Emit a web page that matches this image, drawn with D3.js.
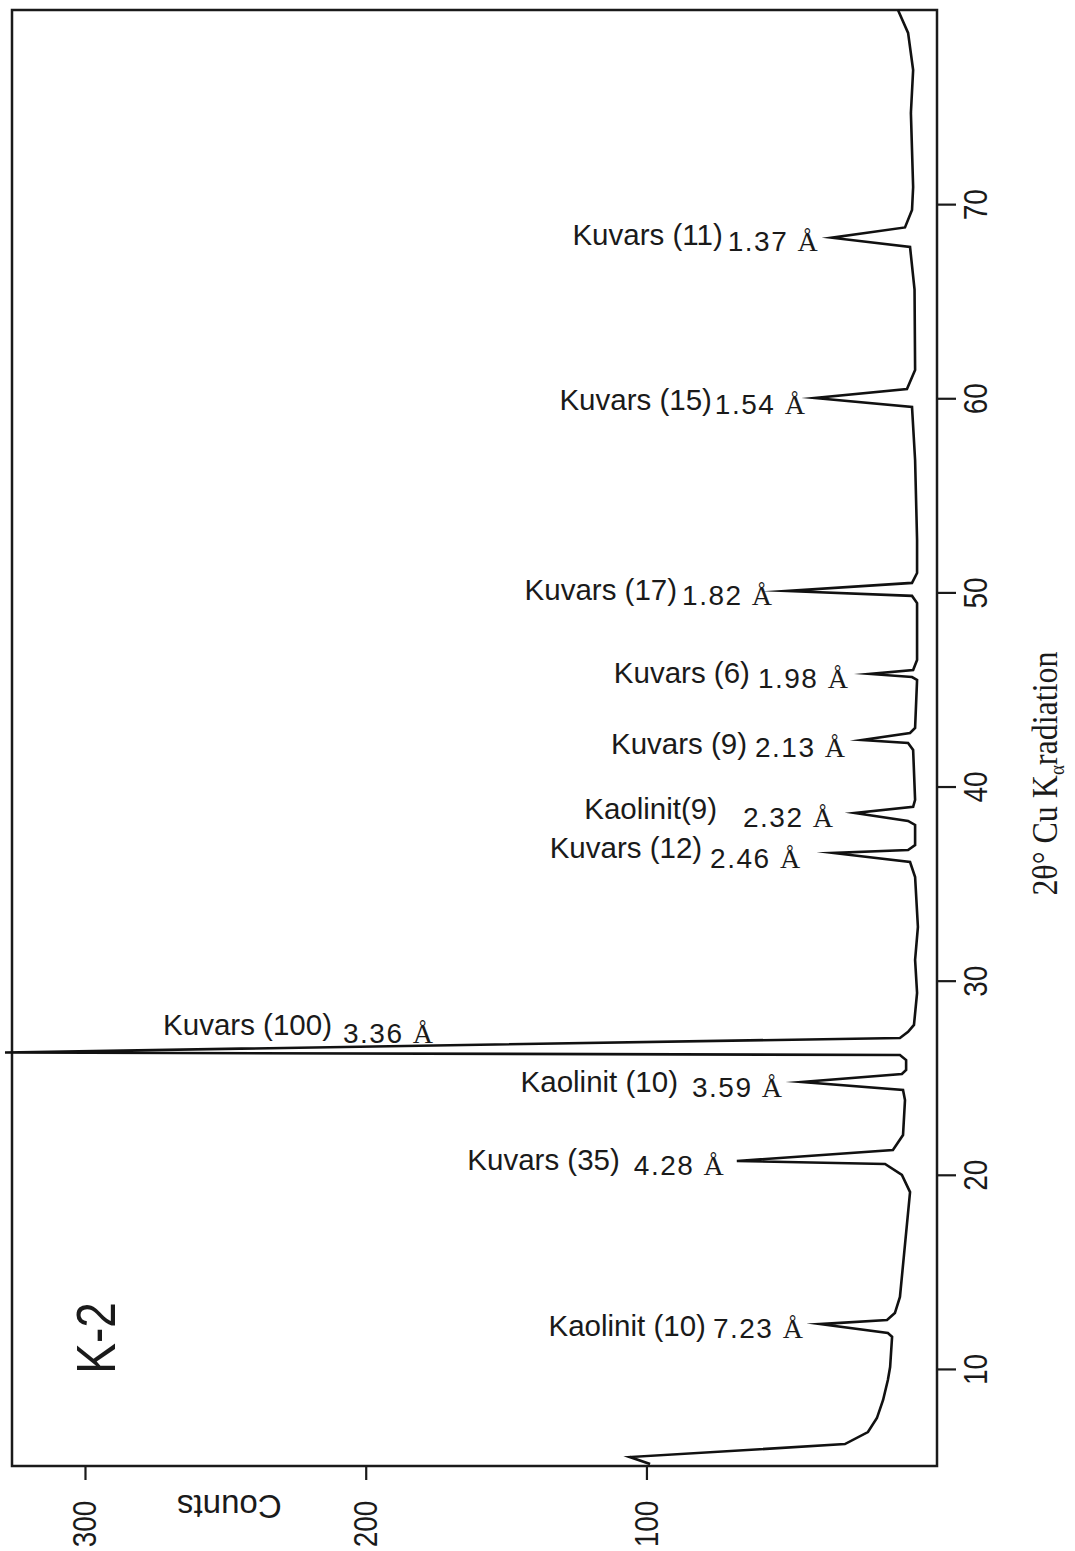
<!DOCTYPE html>
<html>
<head>
<meta charset="utf-8">
<script src="https://cdn.jsdelivr.net/npm/d3@7"></script>
<style>
  html, body { margin: 0; padding: 0; background: #fff; }
  svg { display: block; }
  .sans { font-family: "Liberation Sans", Arial, Helvetica, sans-serif; }
  .serif { font-family: "Liberation Serif", "Times New Roman", serif; }
</style>
</head>
<body>
<svg id="chart" width="1075" height="1551"></svg>
<script>
// XRD pattern of sample K-2 (Cu Kα), drawn with the 2θ axis running upward
// on the right and counts increasing to the left.

// Diffractogram profile: 2θ (degrees) and counts
const twoTheta = [
  5.10, 5.46, 6.13, 6.75, 7.47, 8.40, 9.43, 10.10, 11.65, 11.85,
  12.31, 12.52, 12.88, 13.71, 19.11, 19.99, 20.56, 20.71, 21.28, 22.05,
  23.85, 24.37, 24.78, 25.19, 25.40, 25.91, 26.17, 26.30, 27.05, 27.36,
  27.72, 29.37, 31.07, 32.77, 35.34, 36.11, 36.58, 36.73, 36.99, 38.02,
  38.23, 38.64, 38.95, 39.31, 41.88, 42.24, 42.40, 42.76, 43.02, 45.49,
  45.64, 45.80, 46.00, 46.52, 49.45, 49.82, 50.07, 50.49, 51.00, 52.70,
  56.82, 59.55, 60.01, 60.48, 61.46, 65.60, 67.79, 68.27, 68.80, 69.70,
  70.88, 74.70, 76.91, 78.82, 80.00
];
const counts = [
  98.7, 105.9, 29.3, 21.1, 17.9, 15.7, 14.0, 13.2, 12.5, 14.0,
  38.2, 14.3, 11.5, 9.7, 6.1, 9.0, 15.0, 67.8, 12.2, 8.6,
  7.9, 8.6, 44.6, 9.0, 7.5, 7.5, 9.7, 328.5, 9.7, 6.8,
  4.7, 3.6, 4.3, 3.3, 4.3, 6.1, 33.5, 6.8, 4.3, 4.3,
  6.8, 25.7, 5.0, 4.3, 5.0, 6.8, 23.2, 6.1, 4.3, 3.6,
  5.4, 20.4, 5.0, 3.6, 3.6, 5.4, 49.9, 5.4, 3.6, 3.6,
  4.3, 5.4, 40.0, 7.2, 4.3, 4.5, 6.1, 34.0, 7.9, 5.4,
  5.0, 5.8, 5.0, 6.8, 10.4
];

// Identified reflections: position of each peak tip, phase with relative intensity, d-spacing
const peakTheta  = [12.31, 20.71, 24.78, 26.30, 36.58, 38.64, 42.40, 45.80, 50.07, 60.01, 68.27];
const peakCounts = [38.2, 67.8, 44.6, 328.5, 33.5, 25.7, 23.2, 20.4, 49.9, 40.0, 34.0];
const peakPhase  = ["Kaolinit (10)", "Kuvars (35)", "Kaolinit (10)", "Kuvars (100)", "Kuvars (12)",
                    "Kaolinit(9)", "Kuvars (9)", "Kuvars (6)", "Kuvars (17)", "Kuvars (15)", "Kuvars (11)"];
const peakD      = ["7.23", "4.28", "3.59", "3.36", "2.46", "2.32", "2.13", "1.98", "1.82", "1.54", "1.37"];

// Axis ticks
const thetaTicks = [10, 20, 30, 40, 50, 60, 70];
const countTicks = [100, 200, 300];

// Label placement relative to each peak tip (px): [valueEndDx, valueDy, nameEndDx, nameDy]
const labelOffsets = [
  [-17, 14, -114, 12],
  [-13, 14, -117, 9],
  [-20, 15, -124, 10],
  [428, -9, 327, -17],
  [-33, 15, -131, 5],
  [-22, 14, -138, 6],
  [-17, 17, -115, 14],
  [-22, 14, -120, 9],
  [-15, 14, -110, 9],
  [-10, 16, -103, 12],
  [-14, 13, -109, 7]
];

const frame = { left: 12, right: 937, top: 10, bottom: 1466 };

const svg = d3.select("#chart");

const y = d3.scaleLinear().domain([5, 80]).range([frame.bottom, frame.top]);
const x = d3.scaleLinear().domain([-3.5, 326]).range([frame.right, frame.left]);

// Plot frame
svg.append("rect")
  .attr("x", frame.left).attr("y", frame.top)
  .attr("width", frame.right - frame.left)
  .attr("height", frame.bottom - frame.top)
  .attr("fill", "none").attr("stroke", "#1a1a1a").attr("stroke-width", 2.5);

// Diffractogram trace
const profile = twoTheta.map((t, i) => [t, counts[i]]);
svg.append("path")
  .datum(profile)
  .attr("fill", "none")
  .attr("stroke", "#111")
  .attr("stroke-width", 2.6)
  .attr("stroke-linejoin", "miter")
  .attr("stroke-miterlimit", 20)
  .attr("d", d3.line().x(d => x(d[1])).y(d => y(d[0])));

// 2θ axis on the right
const rightAxis = svg.append("g")
  .attr("transform", `translate(${frame.right},0)`)
  .call(d3.axisRight(y).tickValues(thetaTicks).tickSize(19).tickFormat(d3.format("d")));
rightAxis.select(".domain").remove();
rightAxis.selectAll(".tick line").attr("stroke", "#1a1a1a").attr("stroke-width", 2.2);
rightAxis.selectAll(".tick text")
  .attr("class", "sans")
  .attr("font-size", 28)
  .attr("fill", "#1a1a1a")
  .attr("x", null).attr("dy", null)
  .attr("text-anchor", "middle")
  .attr("transform", "translate(50,0) scale(1.2,1) rotate(-90)");

// Counts axis along the bottom
const bottomAxis = svg.append("g")
  .attr("transform", `translate(0,${frame.bottom})`)
  .call(d3.axisBottom(x).tickValues(countTicks).tickSize(14).tickFormat(d3.format("d")));
bottomAxis.select(".domain").remove();
bottomAxis.selectAll(".tick line").attr("stroke", "#1a1a1a").attr("stroke-width", 2.2);
bottomAxis.selectAll(".tick text")
  .attr("class", "sans")
  .attr("font-size", 28)
  .attr("fill", "#1a1a1a")
  .attr("y", null).attr("dy", null)
  .attr("text-anchor", "middle")
  .attr("transform", "translate(11,58) scale(1.2,1) rotate(-90)");

// Axis titles
svg.append("text")
  .attr("class", "sans")
  .attr("font-size", 33)
  .attr("fill", "#1a1a1a")
  .attr("text-anchor", "middle")
  .attr("transform", `translate(${(x(300) + x(200)) / 2 + 4},${frame.bottom + 29}) rotate(180)`)
  .text("Counts");

const title = svg.append("text")
  .attr("class", "serif")
  .attr("font-size", 32)
  .attr("fill", "#1a1a1a")
  .attr("text-anchor", "middle")
  .attr("transform", `translate(1057,${y(40) - 13}) scale(1.15,1) rotate(-90)`);
title.append("tspan").text("2θ° Cu K");
title.append("tspan").attr("font-size", 19).attr("dy", 6).text("α");
title.append("tspan").attr("dy", -6).text("radiation");

// Sample name
svg.append("text")
  .attr("class", "sans")
  .attr("font-size", 46)
  .attr("fill", "#1a1a1a")
  .attr("text-anchor", "middle")
  .attr("transform", `translate(115,${y(11.6)}) scale(1.2,1) rotate(-90)`)
  .text("K-2");

// Peak annotations
peakTheta.forEach((t, i) => {
  const px = x(peakCounts[i]);
  const py = y(t);
  const [vdx, vdy, ndx, ndy] = labelOffsets[i];

  svg.append("text")
    .attr("class", "sans")
    .attr("font-size", 29.5)
    .attr("fill", "#1a1a1a")
    .attr("text-anchor", "end")
    .attr("x", px + ndx).attr("y", py + ndy)
    .text(peakPhase[i]);

  const v = svg.append("text")
    .attr("font-size", 28)
    .attr("fill", "#1a1a1a")
    .attr("text-anchor", "end")
    .attr("x", px + vdx).attr("y", py + vdy);
  v.append("tspan").attr("class", "sans").attr("letter-spacing", 1.5).text(peakD[i] + " ");
  v.append("tspan").attr("class", "serif").text("Å");
});
</script>
</body>
</html>
